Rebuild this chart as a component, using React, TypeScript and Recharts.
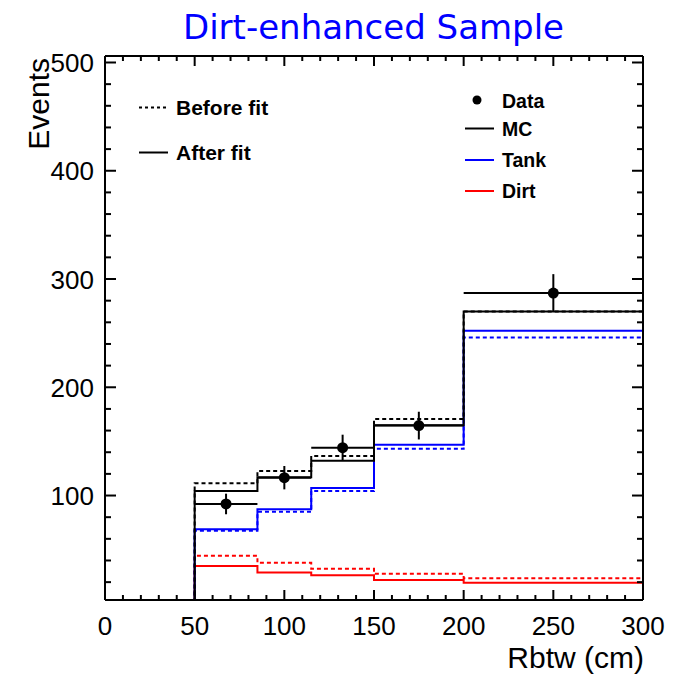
import { ComposedChart, Line, Scatter, ErrorBar, XAxis, YAxis } from 'recharts'

// bin edges in cm, one value per bin (0-50, 50-85, 85-115, 115-150, 150-200, 200-300)
const binEdges = [0, 50, 85, 115, 150, 200, 300]
const mcAfter = [0, 104.1, 116.9, 132.2, 165.0, 270.0]
const mcBefore = [0, 111.3, 122.7, 136.5, 170.7, 270.0]
const tankAfter = [0, 68.8, 87.3, 107.0, 147.0, 252.1]
const tankBefore = [0, 67.5, 85.0, 104.2, 143.3, 245.9]
const dirtAfter = [0, 34.9, 29.0, 26.3, 21.9, 19.4]
const dirtBefore = [0, 44.4, 37.9, 32.4, 27.7, 23.5]

// data points (bin centres)
const dataX = [67.5, 100, 132.5, 175, 250]
const dataY = [92.2, 116.5, 144.2, 164.6, 287.0]
const dataErr = [9.5, 10.8, 12.0, 12.8, 17.5]
const dataHalfWidth = [17.5, 15, 17.5, 25, 50]

const xLabels = [0, 50, 100, 150, 200, 250, 300]
const yLabels = [100, 200, 300, 400, 500]
const xTicks = Array.from({ length: 31 }, (_, i) => i * 10)
const yTicks = Array.from({ length: 25 }, (_, i) => (i + 1) * 20)

const histRows = binEdges.map((x, i) => {
  const b = Math.min(i, mcAfter.length - 1)
  return {
    x,
    mcAfter: mcAfter[b],
    mcBefore: mcBefore[b],
    tankAfter: tankAfter[b],
    tankBefore: tankBefore[b],
    dirtAfter: dirtAfter[b],
    dirtBefore: dirtBefore[b]
  }
})

const points = dataX.map((x, i) => ({ x, y: dataY[i], ey: dataErr[i], ex: dataHalfWidth[i] }))

const FONT = '"Liberation Sans", Arial, Helvetica, sans-serif'
const BLUE = '#0000ff'
const RED = '#ff0000'

function BottomTick({ x, y, payload }: any) {
  const major = xLabels.includes(payload.value)
  return (
    <g>
      <line x1={x} x2={x} y1={y} y2={y - (major ? 10 : 5)} stroke="#000" strokeWidth={2} />
      {major && (
        <text x={x} y={y + 35} textAnchor="middle" fontSize={26} fontFamily={FONT} fill="#000">
          {payload.value}
        </text>
      )}
    </g>
  )
}

function TopTick({ x, y, payload }: any) {
  const major = xLabels.includes(payload.value)
  return <line x1={x} x2={x} y1={y} y2={y + (major ? 10 : 5)} stroke="#000" strokeWidth={2} />
}

function LeftTick({ x, y, payload }: any) {
  const major = yLabels.includes(payload.value)
  return (
    <g>
      <line x1={x} x2={x + (major ? 11 : 6)} y1={y} y2={y} stroke="#000" strokeWidth={2} />
      {major && (
        <text x={x - 11} y={y + 9.5} textAnchor="end" fontSize={26} fontFamily={FONT} fill="#000">
          {payload.value}
        </text>
      )}
    </g>
  )
}

function RightTick({ x, y, payload }: any) {
  const major = yLabels.includes(payload.value)
  return <line x1={x} x2={x - (major ? 11 : 6)} y1={y} y2={y} stroke="#000" strokeWidth={2} />
}

const xTitle = ({ viewBox }: any) => (
  <text x={viewBox.x + viewBox.width + 1} y={viewBox.y + 68} textAnchor="end" fontSize={30} fontFamily={FONT} fill="#000">
    Rbtw (cm)
  </text>
)

const yTitle = ({ viewBox }: any) => {
  const tx = viewBox.x + viewBox.width - 56
  const ty = viewBox.y + 2
  return (
    <text x={tx} y={ty} transform={`rotate(-90 ${tx} ${ty})`} textAnchor="end" fontSize={30} fontFamily={FONT} fill="#000">
      Events
    </text>
  )
}

const DataDot = (props: any) => <circle cx={props.cx} cy={props.cy} r={5.5} fill="#000" />

function Overlay() {
  const bold = { fontFamily: FONT, fontWeight: 'bold' as const, fill: '#000' }
  return (
    <svg width={683} height={676} style={{ position: 'absolute', left: 0, top: 0, pointerEvents: 'none' }}>
      <text x={373.5} y={39} textAnchor="middle" fontSize={34} fontFamily='"DejaVu Sans", sans-serif' fill={BLUE}>
        Dirt-enhanced Sample
      </text>

      <line x1={139} x2={168} y1={107.5} y2={107.5} stroke="#000" strokeWidth={2} strokeDasharray="3 3" />
      <text x={176} y={115} fontSize={21} {...bold}>Before fit</text>
      <line x1={139} x2={168} y1={152.5} y2={152.5} stroke="#000" strokeWidth={2} />
      <text x={176} y={160} fontSize={21} {...bold}>After fit</text>

      <circle cx={477} cy={100} r={4.5} fill="#000" />
      <text x={502} y={107.7} fontSize={19.5} {...bold}>Data</text>
      <line x1={465} x2={494} y1={128.5} y2={128.5} stroke="#000" strokeWidth={2} />
      <text x={502} y={135.7} fontSize={19.5} {...bold}>MC</text>
      <line x1={465} x2={494} y1={160} y2={160} stroke={BLUE} strokeWidth={2} />
      <text x={502} y={166.7} fontSize={19.5} {...bold}>Tank</text>
      <line x1={465} x2={494} y1={191} y2={191} stroke={RED} strokeWidth={2} />
      <text x={502} y={198.3} fontSize={19.5} {...bold}>Dirt</text>
    </svg>
  )
}

export default function App() {
  const axisLine = { stroke: '#000', strokeWidth: 2 }
  return (
    <div style={{ position: 'absolute', left: 0, top: 0, width: 683, height: 676, background: '#fff' }}>
      <ComposedChart width={683} height={676} data={histRows} margin={{ top: 46, right: 30, bottom: 36, left: 45 }}>
        <XAxis
          dataKey="x"
          type="number"
          domain={[0, 300]}
          ticks={xTicks}
          interval={0}
          height={40}
          tickSize={0}
          tickMargin={0}
          tickLine={false}
          axisLine={axisLine}
          tick={<BottomTick />}
          label={xTitle}
          allowDataOverflow
        />
        <XAxis
          xAxisId="top"
          orientation="top"
          dataKey="x"
          type="number"
          domain={[0, 300]}
          ticks={xTicks}
          interval={0}
          height={10}
          tickSize={0}
          tickMargin={0}
          tickLine={false}
          axisLine={axisLine}
          tick={<TopTick />}
          allowDataOverflow
        />
        <YAxis
          type="number"
          domain={[3.5, 506]}
          ticks={yTicks}
          interval={0}
          width={60}
          tickSize={0}
          tickMargin={0}
          tickLine={false}
          axisLine={axisLine}
          tick={<LeftTick />}
          label={yTitle}
          allowDataOverflow
        />
        <YAxis
          yAxisId="right"
          orientation="right"
          type="number"
          domain={[3.5, 506]}
          ticks={yTicks}
          interval={0}
          width={10}
          tickSize={0}
          tickMargin={0}
          tickLine={false}
          axisLine={axisLine}
          tick={<RightTick />}
          allowDataOverflow
        />

        <Line type="stepAfter" dataKey="dirtBefore" stroke={RED} strokeWidth={2} strokeDasharray="4 3" dot={false} isAnimationActive={false} />
        <Line type="stepAfter" dataKey="dirtAfter" stroke={RED} strokeWidth={2} dot={false} isAnimationActive={false} />
        <Line type="stepAfter" dataKey="tankBefore" stroke={BLUE} strokeWidth={2} strokeDasharray="4 3" dot={false} isAnimationActive={false} />
        <Line type="stepAfter" dataKey="tankAfter" stroke={BLUE} strokeWidth={2} dot={false} isAnimationActive={false} />
        <Line type="stepAfter" dataKey="mcBefore" stroke="#000" strokeWidth={2} strokeDasharray="4 3" dot={false} isAnimationActive={false} />
        <Line type="stepAfter" dataKey="mcAfter" stroke="#000" strokeWidth={2} dot={false} isAnimationActive={false} />

        <Scatter data={points} dataKey="y" shape={DataDot} isAnimationActive={false}>
          <ErrorBar dataKey="ey" direction="y" width={0} stroke="#000" strokeWidth={2} />
          <ErrorBar dataKey="ex" direction="x" width={0} stroke="#000" strokeWidth={2} />
        </Scatter>
      </ComposedChart>
      <Overlay />
    </div>
  )
}
